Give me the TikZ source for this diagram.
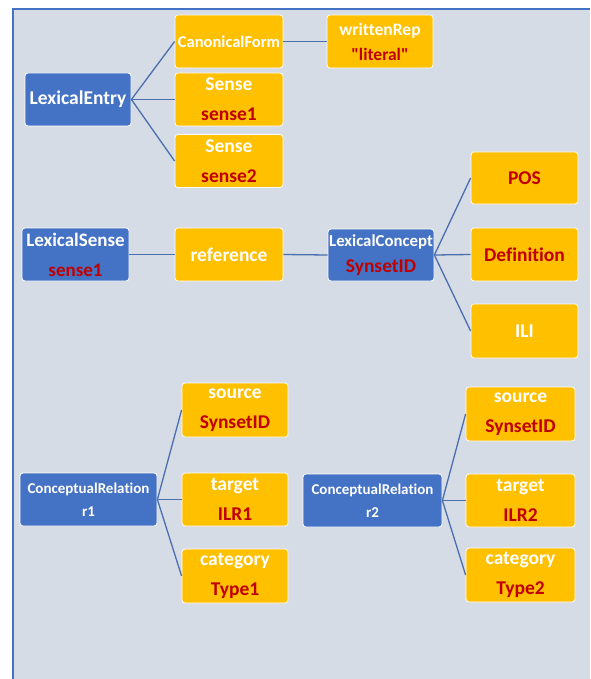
\documentclass[tikz,border=0pt]{standalone}
\usepackage{fontspec}
\setmainfont{Carlito}[Ligatures={NoCommon,TeXOff}]
\definecolor{bgpanel}{HTML}{D6DCE5}
\definecolor{bluebox}{HTML}{4472C4}
\definecolor{orangebox}{HTML}{FFC000}
\definecolor{redtxt}{HTML}{C00000}
\definecolor{linkcol}{HTML}{4A6EAE}
\tikzset{
  box/.style={rounded corners=3pt, draw=white, line width=0.8pt, inner sep=0pt, align=center,
    font=\bfseries\fontsize{19.5}{30}\selectfont, text=white},
  bluenode/.style={box, fill=bluebox},
  orangenode/.style={box, fill=orangebox},
  link/.style={draw=linkcol, line width=1.3pt},
}
\newcommand{\rt}[1]{\textcolor{redtxt}{#1}}
\begin{document}
\begin{tikzpicture}[x=1pt,y=-1pt]
\useasboundingbox (0,0) rectangle (590,679);
\fill[white] (0,0) rectangle (590,679);
\fill[bgpanel] (13,9) rectangle (590,679);
\draw[bluebox, line width=2pt] (13,679) -- (13,9) -- (590,9);

% Lexical entry group
\node[bluenode, minimum width=106pt, minimum height=53pt] (le) at (78,99.5) {LexicalEntry};
\node[orangenode, minimum width=108pt, minimum height=53pt, font=\bfseries\fontsize{16.5}{30}\selectfont] (cf) at (229,41.5) {CanonicalForm};
\node[orangenode, minimum width=108pt, minimum height=53pt] (s1) at (229,99.5) {Sense\\\rt{sense1}};
\node[orangenode, minimum width=108pt, minimum height=53pt] (s2) at (229,161) {Sense\\\rt{sense2}};
\node[orangenode, minimum width=106pt, minimum height=53pt, font=\bfseries\fontsize{17.5}{25}\selectfont] (wr) at (380,41.5) {writtenRep\\\rt{"literal"}};

% Lexical sense group
\node[bluenode, minimum width=107pt, minimum height=53pt, font=\bfseries\fontsize{19}{30}\selectfont] (ls) at (75.5,254.5) {LexicalSense\\\rt{sense1}};
\node[orangenode, minimum width=108pt, minimum height=53pt] (ref) at (229,254.5) {reference};
\node[bluenode, minimum width=106pt, minimum height=52pt, font=\bfseries\fontsize{16.8}{26}\selectfont] (lc) at (381,255) {LexicalConcept\\\rt{\fontsize{19.5}{26}\selectfont SynsetID}};
\node[orangenode, minimum width=107pt, minimum height=52pt] (pos) at (524.5,178) {\rt{POS}};
\node[orangenode, minimum width=107pt, minimum height=53pt] (def) at (524.5,254.5) {\rt{Definition}};
\node[orangenode, minimum width=107pt, minimum height=54pt] (ili) at (524.5,331) {ILI};

% Conceptual relation 1
\node[bluenode, minimum width=137pt, minimum height=53pt, font=\bfseries\fontsize{15}{23}\selectfont] (cr1) at (88.5,499.5) {ConceptualRelation\\r1};
\node[orangenode, minimum width=106pt, minimum height=54pt] (src1) at (235,410) {source\\\rt{SynsetID}};
\node[orangenode, minimum width=106pt, minimum height=53pt] (tgt1) at (235,499.5) {target\\\rt{ILR1}};
\node[orangenode, minimum width=106pt, minimum height=54pt] (cat1) at (235,576) {category\\\rt{Type1}};

% Conceptual relation 2
\node[bluenode, minimum width=139pt, minimum height=53pt, font=\bfseries\fontsize{15}{23}\selectfont] (cr2) at (372.5,500.5) {ConceptualRelation\\r2};
\node[orangenode, minimum width=109pt, minimum height=54pt] (src2) at (520.5,414) {source\\\rt{SynsetID}};
\node[orangenode, minimum width=109pt, minimum height=53pt] (tgt2) at (520.5,500.5) {target\\\rt{ILR2}};
\node[orangenode, minimum width=109pt, minimum height=54pt] (cat2) at (520.5,575) {category\\\rt{Type2}};

% connectors
\draw[link] (le.east) -- (cf.west);
\draw[link] (le.east) -- (s1.west);
\draw[link] (le.east) -- (s2.west);
\draw[link] (cf.east) -- (wr.west);
\draw[link] (ls.east) -- (ref.west);
\draw[link] (ref.east) -- (lc.west);
\draw[link] (lc.east) -- (pos.west);
\draw[link] (lc.east) -- (def.west);
\draw[link] (lc.east) -- (ili.west);
\draw[link] (cr1.east) -- (src1.west);
\draw[link] (cr1.east) -- (tgt1.west);
\draw[link] (cr1.east) -- (cat1.west);
\draw[link] (cr2.east) -- (src2.west);
\draw[link] (cr2.east) -- (tgt2.west);
\draw[link] (cr2.east) -- (cat2.west);
\end{tikzpicture}
\end{document}
